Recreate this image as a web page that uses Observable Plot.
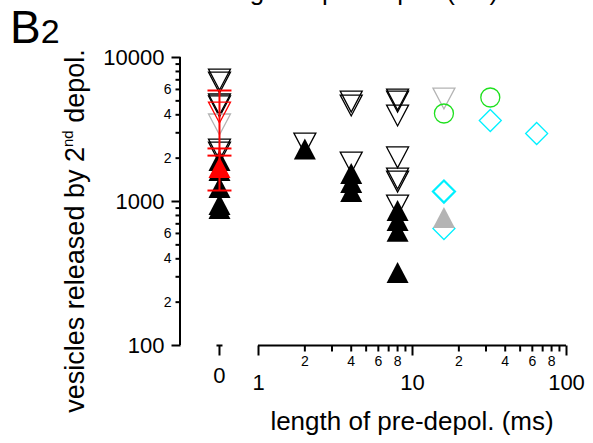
<!DOCTYPE html>
<html><head><meta charset="utf-8">
<script src="https://cdn.jsdelivr.net/npm/d3@7"></script>
<script src="https://cdn.jsdelivr.net/npm/@observablehq/plot@0.6"></script>
<style>
html,body{margin:0;padding:0;background:#fff;}
#wrap{position:relative;width:593px;height:443px;overflow:hidden;background:#fff;font-family:"Liberation Sans",Arial,sans-serif;color:#000;}
#wrap svg{position:absolute;left:0;top:0;}
.lbl{position:absolute;white-space:nowrap;line-height:1;}
</style></head><body>
<div id="wrap">
 <div class="lbl" style="font-size:26px;left:215px;top:-22px;">length of pre-depol. (ms)</div>
 <div class="lbl" style="font-size:46px;left:10px;top:4px;">B<span style="font-size:34px">2</span></div>
 <div class="lbl" style="font-size:27px;left:75px;top:231px;transform:translate(-50%,-50%) rotate(-90deg);">vesicles released by 2<span style="font-size:15px;position:relative;top:-11px;">nd</span> depol.</div>
 <div class="lbl" style="font-size:26px;left:412px;top:408px;transform:translateX(-50%);">length of pre-depol. (ms)</div>
</div>
<script>
// ---- tick values ----
const xMajor = [1, 10, 100];
const xMinor = [2, 3, 4, 5, 6, 7, 8, 9, 20, 30, 40, 50, 60, 70, 80, 90];
const xMinorLabels = [2, 4, 6, 8, 20, 40, 60, 80];
const xZero = [0];
const yMajor = [100, 1000, 10000];
const yMinor = [200, 300, 400, 500, 600, 700, 800, 900, 2000, 3000, 4000, 5000, 6000, 7000, 8000, 9000];
const yMinorLabels = [200, 400, 600, 2000, 4000, 6000];

// ---- data: [length of pre-depol. (ms), vesicles released] ----
const openDownBlack = [[0,7035],[0,6700],[0,4720],[0,4574],[0,2297],[0,2188],
  [2,2529],[4,4945],[4,4642],[4,1866],
  [8,5108],[8,4945],[8,3955],[8,2024],[8,1445],[8,1376],[8,938]];
const filledUpBlack = [[0,1927],[0,1640],[0,1250],[0,953],[0,894],
  [2,2317],[4,1563],[4,1355],[4,1172],
  [8,866],[8,738],[8,620],[8,321]];
const openDownGray = [[0,3429],[16,5190]];
const filledUpGray = [[16,774]];
const openCircleGreen = [[16,4084],[32,5275]];
const openDiamondCyanBold = [[16,1172]];
const openDiamondCyan = [[16,649],[32,3652],[64,2966]];
const meanDownRed = [[0,4150]];
const meanUpRed = [[0,1722]];
const errDownRed = [[0,2083,5900]]; // x, low, high
const errUpRed = [[0,1192,2335]];

// ---- layout / style ----
const W = 593, H = 443, ML = 180, MR = 27;
const ZERO_AT = 0.558; // place of the broken-axis "0" group on the log x scale
const xPos = v => v === 0 ? ZERO_AT : v;
const yBase = yMajor[0];
const FONT = "Liberation Sans, Arial, Helvetica, sans-serif";

const sym = draw => ({draw});
const triDown = sym((c, s) => { const r = Math.sqrt(s / Math.PI), h = r * 0.95; c.moveTo(-r, -h); c.lineTo(r, -h); c.lineTo(0, h); c.closePath(); });
const triUp = sym((c, s) => { const r = Math.sqrt(s / Math.PI), h = r * 0.95; c.moveTo(-r, h); c.lineTo(r, h); c.lineTo(0, -h); c.closePath(); });
const diamond = sym((c, s) => { const r = Math.sqrt(s / Math.PI); c.moveTo(0, -r); c.lineTo(r, 0); c.lineTo(0, r); c.lineTo(-r, 0); c.closePath(); });
const tickLeft = len => sym(c => { c.moveTo(0, 0); c.lineTo(-len, 0); });
const tickDown = len => sym(c => { c.moveTo(0, 0); c.lineTo(0, len); });
const cap = len => sym(c => { c.moveTo(-len / 2, 0); c.lineTo(len / 2, 0); });
const zeroBreak = sym(c => { c.moveTo(-3, 0); c.lineTo(3, 0); c.moveTo(0, 0); c.lineTo(0, 10); });

const X = d => xPos(d[0]), Y = d => d[1];
const caps = arr => arr.flatMap(([x, lo, hi]) => [[x, lo], [x, hi]]);
const decadeDigit = d => String(Math.round(d / 10 ** Math.floor(Math.log10(d))));

const chart = Plot.plot({
  width: W, height: H,
  marginLeft: ML, marginRight: MR, marginTop: 57, marginBottom: 98,
  style: {fontFamily: FONT, fontSize: "14px", background: "transparent", overflow: "visible", color: "black"},
  x: {type: "log", domain: [1, 100], range: [258, 566], axis: null},
  y: {type: "log", domain: [100, 10000], range: [345, 57], axis: null},
  marks: [
    // y axis
    Plot.rect([0], {y1: () => yMajor[0], y2: () => yMajor[yMajor.length - 1], fill: "black",
      insetLeft: -1, insetRight: (W - ML - MR) - 1}),
    Plot.dot(yMajor, {y: d => d, frameAnchor: "left", symbol: tickLeft(9), stroke: "black", strokeWidth: 2, fill: "none"}),
    Plot.dot(yMinor, {y: d => d, frameAnchor: "left", symbol: tickLeft(5), stroke: "black", strokeWidth: 2, fill: "none"}),
    Plot.text(yMajor, {y: d => d, frameAnchor: "left", text: d => String(d), textAnchor: "end", dx: -16, fontSize: 22}),
    Plot.text(yMinorLabels, {y: d => d, frameAnchor: "left", text: decadeDigit, textAnchor: "end", dx: -9, fontSize: 14}),
    // x axis
    Plot.ruleY([yBase], {x1: () => xMajor[0], x2: () => xMajor[xMajor.length - 1], stroke: "black", strokeWidth: 2}),
    Plot.dot(xMajor, {x: d => d, y: () => yBase, symbol: tickDown(10), stroke: "black", strokeWidth: 2, fill: "none"}),
    Plot.dot(xMinor, {x: d => d, y: () => yBase, symbol: tickDown(6), stroke: "black", strokeWidth: 2, fill: "none"}),
    Plot.dot(xZero, {x: xPos, y: () => yBase, symbol: zeroBreak, stroke: "black", strokeWidth: 2, fill: "none"}),
    Plot.text(xMajor, {x: d => d, y: () => yBase, text: d => String(d), dy: 37, fontSize: 22}),
    Plot.text(xZero, {x: xPos, y: () => yBase, text: d => String(d), dy: 30, fontSize: 22}),
    Plot.text(xMinorLabels, {x: d => d, y: () => yBase, text: decadeDigit, dy: 16, fontSize: 14}),
    // data
    Plot.dot(openDownBlack, {x: X, y: Y, symbol: triDown, r: 11, stroke: "black", strokeWidth: 1.3, fill: "none"}),
    Plot.dot(openDownGray, {x: X, y: Y, symbol: triDown, r: 11, stroke: "#b4b4b4", strokeWidth: 1.3, fill: "none"}),
    Plot.dot(openCircleGreen, {x: X, y: Y, r: 9.5, stroke: "#1ee01e", strokeWidth: 1.3, fill: "none"}),
    Plot.dot(openDiamondCyanBold, {x: X, y: Y, symbol: diamond, r: 11, stroke: "#00f0ff", strokeWidth: 2.2, fill: "none"}),
    Plot.dot(openDiamondCyan, {x: X, y: Y, symbol: diamond, r: 11, stroke: "#00f0ff", strokeWidth: 1.3, fill: "none"}),
    Plot.dot(filledUpBlack, {x: X, y: Y, symbol: triUp, r: 11, fill: "black", stroke: "none"}),
    Plot.dot(filledUpGray, {x: X, y: Y, symbol: triUp, r: 11, fill: "#b4b4b4", stroke: "none"}),
    Plot.ruleX(errDownRed, {x: X, y1: d => d[1], y2: d => d[2], stroke: "red", strokeWidth: 2}),
    Plot.ruleX(errUpRed, {x: X, y1: d => d[1], y2: d => d[2], stroke: "red", strokeWidth: 2}),
    Plot.dot(caps(errDownRed).concat(caps(errUpRed)), {x: X, y: Y, symbol: cap(24), stroke: "red", strokeWidth: 2, fill: "none"}),
    Plot.dot(meanDownRed, {x: X, y: Y, symbol: triDown, r: 11, stroke: "red", strokeWidth: 1.3, fill: "none"}),
    Plot.dot(meanUpRed, {x: X, y: Y, symbol: triUp, r: 11, fill: "red", stroke: "none"})
  ]
});
document.getElementById("wrap").prepend(chart);
</script>
</body></html>
